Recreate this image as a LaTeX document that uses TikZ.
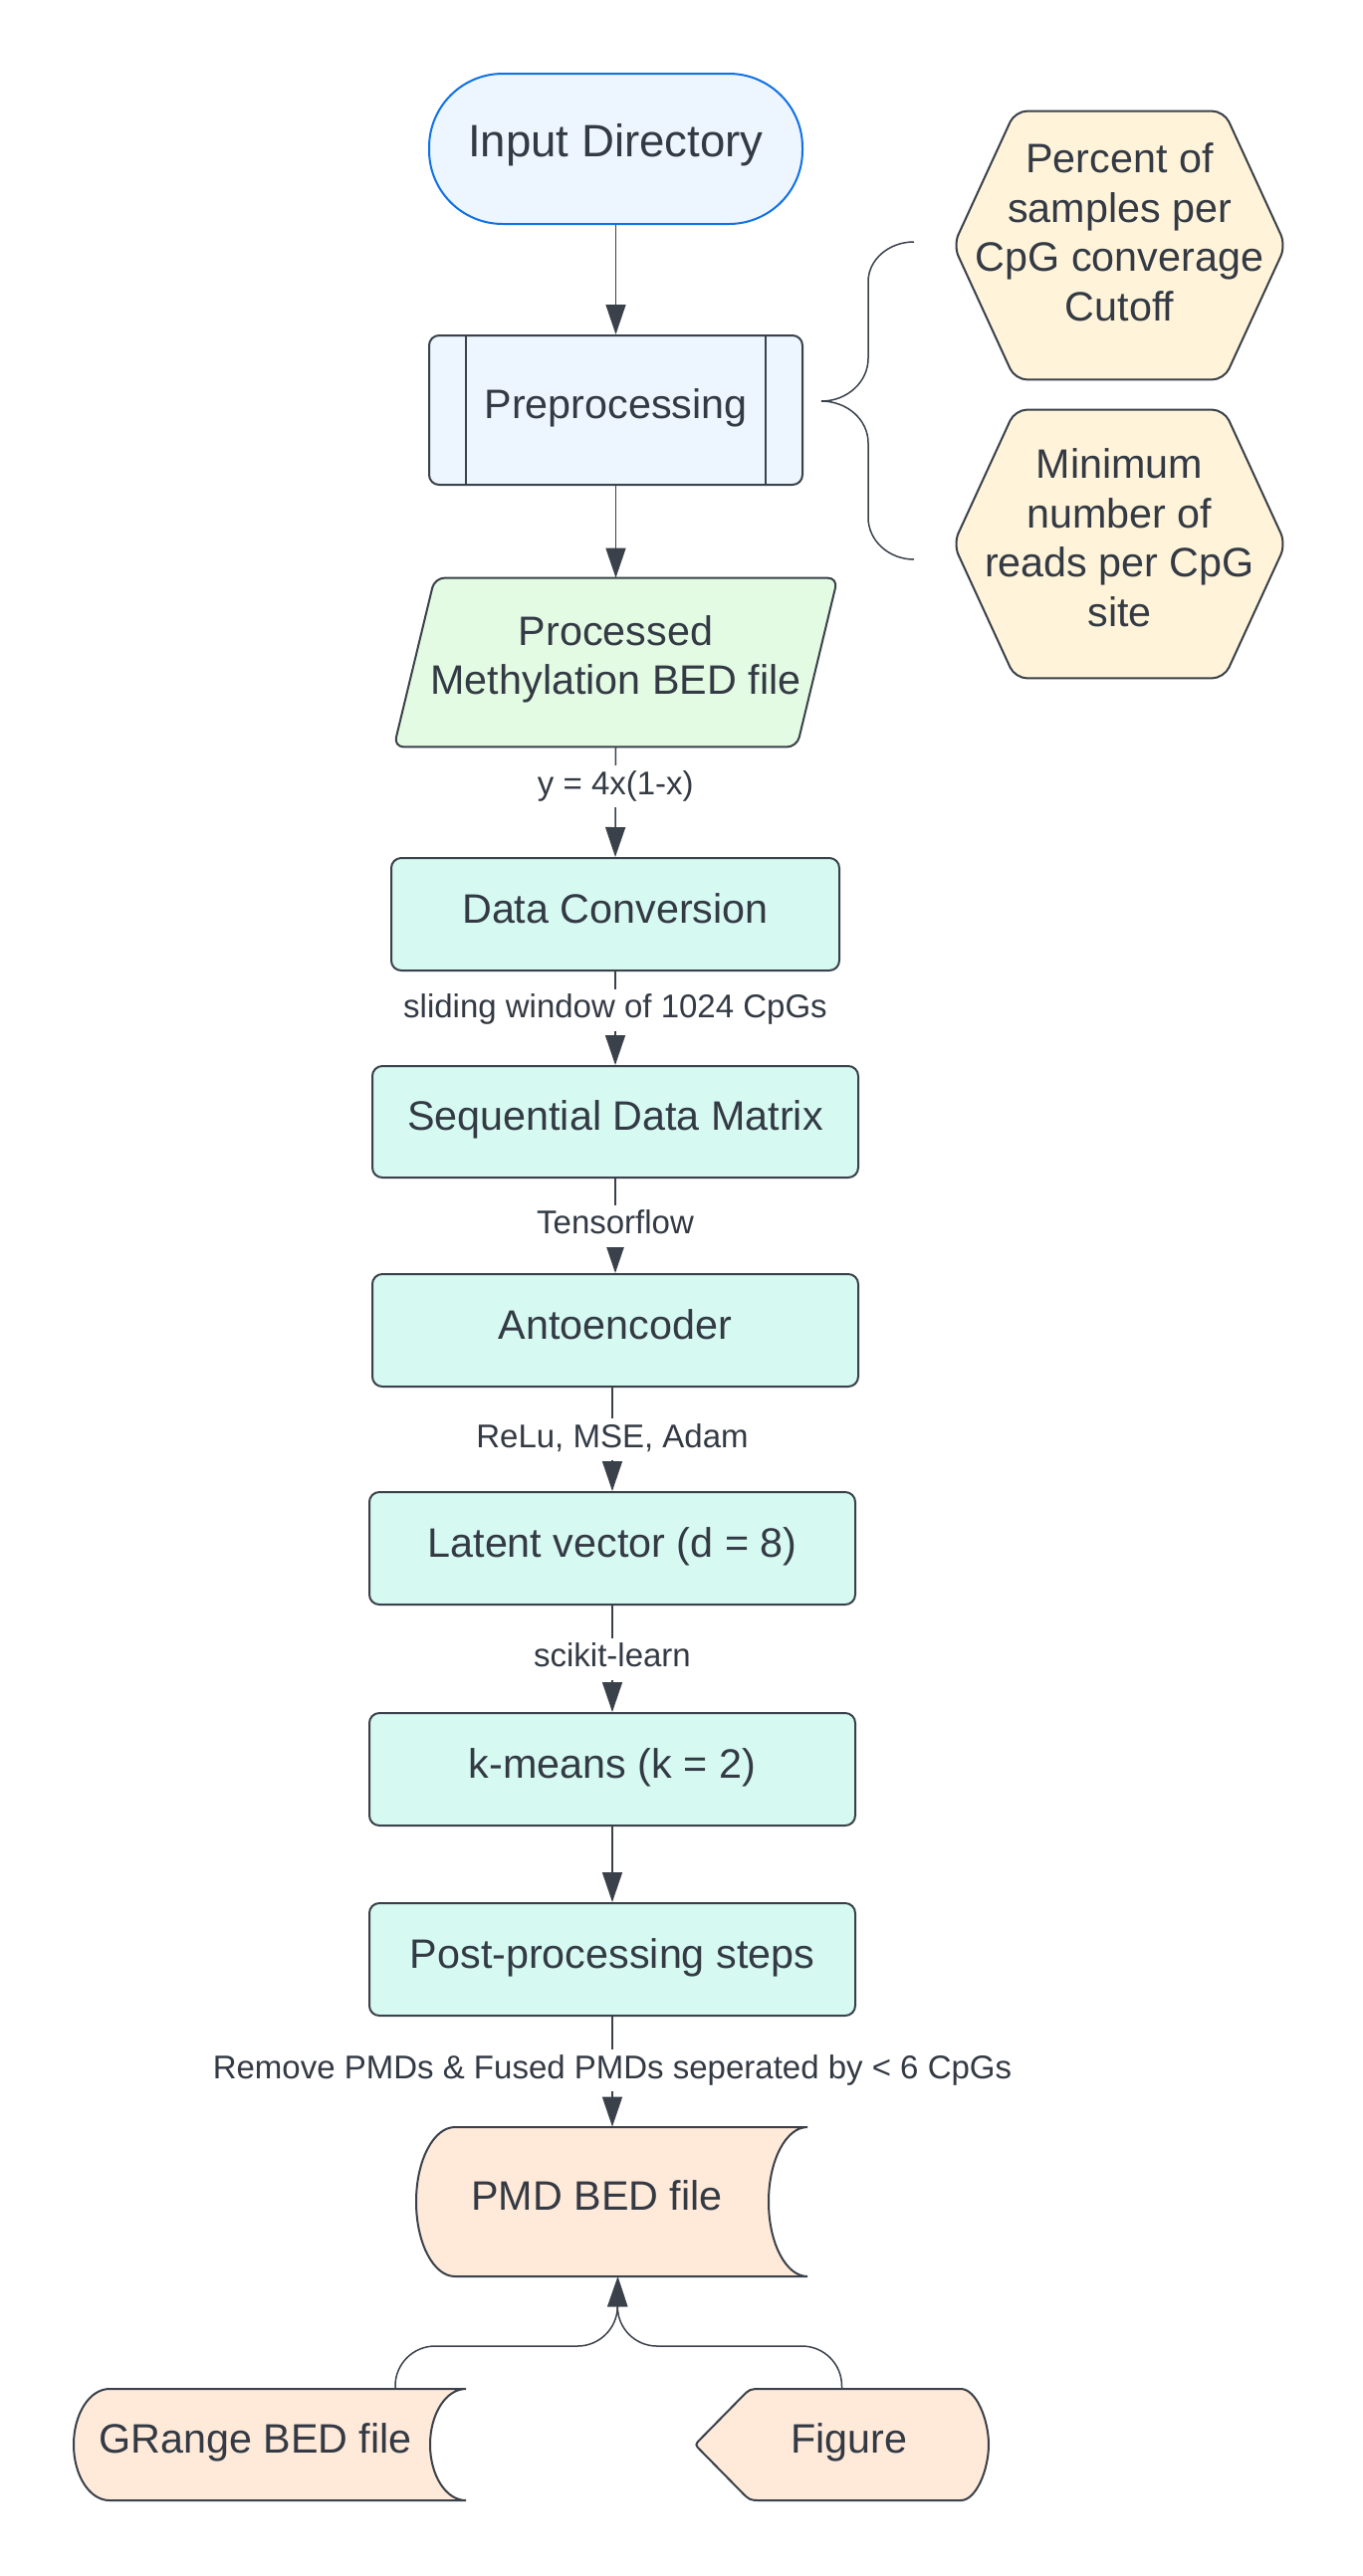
\documentclass[tikz,border=0pt]{standalone}
\usepackage{fontspec}
\setmainfont{Liberation Sans}
\usetikzlibrary{arrows.meta,backgrounds,calc}
\definecolor{linec}{HTML}{3A414A}
\definecolor{textc}{HTML}{333A44}
\definecolor{blueS}{HTML}{1071E5}
\definecolor{blueF}{HTML}{EDF5FF}
\definecolor{greenF}{HTML}{E3FAE3}
\definecolor{tealF}{HTML}{D6F9F2}
\definecolor{yelF}{HTML}{FFF3D9}
\definecolor{orF}{HTML}{FFE9D9}
\begin{document}
\begin{tikzpicture}[x=0.5pt,y=-0.5pt,
  txt/.style={text=textc, font=\fontsize{20.65pt}{24.75pt}\selectfont, align=center, inner sep=0pt, text height=14.8pt, text depth=6pt},
  txtm/.style={text=textc, font=\fontsize{20.65pt}{24.75pt}\selectfont, align=center, inner sep=0pt},
  boxbase/.style={txt, draw=linec, line width=1pt, rounded corners=5pt},
  tealbox/.style={boxbase, fill=tealF, minimum height=56.5pt},
  shapebox/.style={inner sep=0pt},
  lbl/.style={fill=white, text=textc, font=\fontsize{16.5pt}{19.8pt}\selectfont, inner xsep=2pt, inner ysep=2.8pt, text height=11.8pt, text depth=3.6pt},
  arr/.style={draw=linec, line width=0.75pt, -{Triangle[width=10pt,length=15pt]}},
  shp/.style={draw=linec, line width=1pt},
]
\useasboundingbox (0,0) rectangle (1369,2588);

% main column
\node[boxbase, draw=blueS, fill=blueF, minimum width=187.5pt, minimum height=75.5pt, rounded corners=37pt, font=\fontsize{22.8pt}{27.4pt}\selectfont, text height=16.3pt, text depth=8pt] (inp) at (618.5,149.5) {Input Directory};
\node[boxbase, fill=blueF, minimum width=187.5pt, minimum height=75pt] (pre) at (618.5,412) {Preprocessing};
\draw[linec, line width=0.6pt] ([xshift=19pt]pre.north west) -- ([xshift=19pt]pre.south west);
\draw[linec, line width=0.6pt] ([xshift=-19pt]pre.north east) -- ([xshift=-19pt]pre.south east);

\node[shapebox, minimum width=222.5pt, minimum height=84.5pt,
  label={[txtm, yshift=1.7pt]center:{Processed\\Methylation BED file}}] (bed) at (618.5,665.5) {};

\node[tealbox, minimum width=225pt] (dc) at (618,918.5) {Data Conversion};
\node[tealbox, minimum width=244pt, minimum height=56pt] (seq) at (618,1127) {Sequential Data Matrix};
\node[tealbox, minimum width=244pt] (ae) at (618,1336.5) {Antoencoder};
\node[tealbox, minimum width=244pt] (lat) at (615,1555.5) {Latent vector (d = 8)};
\node[tealbox, minimum width=244pt] (km) at (615,1777.5) {k-means (k = 2)};
\node[tealbox, minimum width=244pt] (post) at (615,1968.5) {Post-processing steps};

\node[shapebox, minimum width=196.5pt, minimum height=75pt,
  label={[txt, xshift=-7.5pt]center:PMD BED file}] (pmd) at (614.5,2212) {};
\node[shapebox, minimum width=197pt, minimum height=56pt,
  label={[txt, xshift=-7.25pt]center:GRange BED file}] (gr) at (271,2456) {};
\node[shapebox, minimum width=147.5pt, minimum height=56pt,
  label={[txt, xshift=3.75pt]center:Figure}] (fig) at (845.5,2456) {};

% hexagons
\node[shapebox, minimum width=166.5pt, minimum height=134.5pt,
  label={[txtm, yshift=6.75pt]center:{Percent of\\samples per\\CpG converage\\Cutoff}}] (hx1) at (1124.5,246.5) {};
\node[shapebox, minimum width=166.5pt, minimum height=134.5pt,
  label={[txtm, yshift=3.25pt]center:{Minimum\\number of\\reads per CpG\\site}}] (hx2) at (1124.5,546.5) {};

\begin{scope}[on background layer]
\fill[white] (0,0) rectangle (1369,2588);
\draw[shp, fill=greenF, rounded corners=5pt] ([xshift=20.5pt]bed.north west) -- (bed.north east) -- ([xshift=-20.5pt]bed.south east) -- (bed.south west) -- cycle;
\draw[shp, fill=yelF, rounded corners=6pt] (hx1.west) -- ([xshift=31pt]hx1.north west) -- ([xshift=-31pt]hx1.north east) -- (hx1.east) -- ([xshift=-31pt]hx1.south east) -- ([xshift=31pt]hx1.south west) -- cycle;
\draw[shp, fill=yelF, rounded corners=6pt] (hx2.west) -- ([xshift=31pt]hx2.north west) -- ([xshift=-31pt]hx2.north east) -- (hx2.east) -- ([xshift=-31pt]hx2.south east) -- ([xshift=31pt]hx2.south west) -- cycle;
\draw[shp, fill=orF, shift={(pmd.center)}] (-157.5,-75) -- (196.5,-75) .. controls (175,-75) and (157.5,-41.6) .. (157.5,0) .. controls (157.5,41.6) and (175,75) .. (196.5,75) -- (-157.5,75) .. controls (-179,75) and (-196.5,41.6) .. (-196.5,0) .. controls (-196.5,-41.6) and (-179,-75) .. cycle;
\draw[shp, fill=orF, shift={(gr.center)}] (-161,-56) -- (197,-56) .. controls (177,-56) and (161,-31) .. (161,0) .. controls (161,31) and (177,56) .. (197,56) -- (-161,56) .. controls (-181,56) and (-197,31) .. (-197,0) .. controls (-197,-31) and (-181,-56) .. cycle;
\draw[shp, fill=orF, shift={(fig.center)}] (-80.5,-56) -- (119.5,-56) .. controls (135,-56) and (147.5,-25) .. (147.5,0) .. controls (147.5,25) and (135,56) .. (119.5,56) -- (-80.5,56) .. controls (-92.5,56) .. (-101,47.3) -- (-141.9,5.7) .. controls (-147.5,0) .. (-141.9,-5.7) -- (-101,-47.3) .. controls (-92.5,-56) .. (-80.5,-56) -- cycle;
\end{scope}

% brace
\coordinate (btip) at (825,403);
\draw[linec, line width=0.75pt] (918,243) .. controls (892.6,243) and (872,261) .. (872,283) -- (872,360) .. controls (872,383.7) and (851,403) .. (btip) .. controls (851,403) and (872,421.8) .. (872,445) -- (872,520) .. controls (872,543) and (892.6,562) .. (918,562);

% connectors
\draw[arr] (inp) -- (pre);
\draw[arr] (pre) -- (bed);
\draw[arr] (bed.south) -- node[lbl, pos=0.36]{y = 4x(1-x)} (dc.north);
\draw[arr] (dc.south) -- node[lbl, pos=0.41]{sliding window of 1024 CpGs} (seq.north);
\draw[arr] (seq.south) -- node[lbl, pos=0.5]{Tensorflow} (ae.north);
\draw[arr] (lat.north |- ae.south) -- node[lbl, pos=0.5]{ReLu, MSE, Adam} (lat.north);
\draw[arr] (lat.south) -- node[lbl, pos=0.5]{scikit-learn} (km.north);
\draw[arr] (km) -- (post);
\draw[arr] (post.south) -- node[lbl, pos=0.49]{Remove PMDs \& Fused PMDs seperated by < 6 CpGs} (post.south |- pmd.north);

\coordinate (pin) at ([xshift=3pt]pmd.south);
\coordinate (mrg) at (620,2357);
\draw[arr, rounded corners=20pt] ([xshift=63pt]gr.north) |- (mrg) -- (pin);
\draw[arr, rounded corners=20pt] (fig.north) |- (mrg) -- (pin);
\end{tikzpicture}
\end{document}
